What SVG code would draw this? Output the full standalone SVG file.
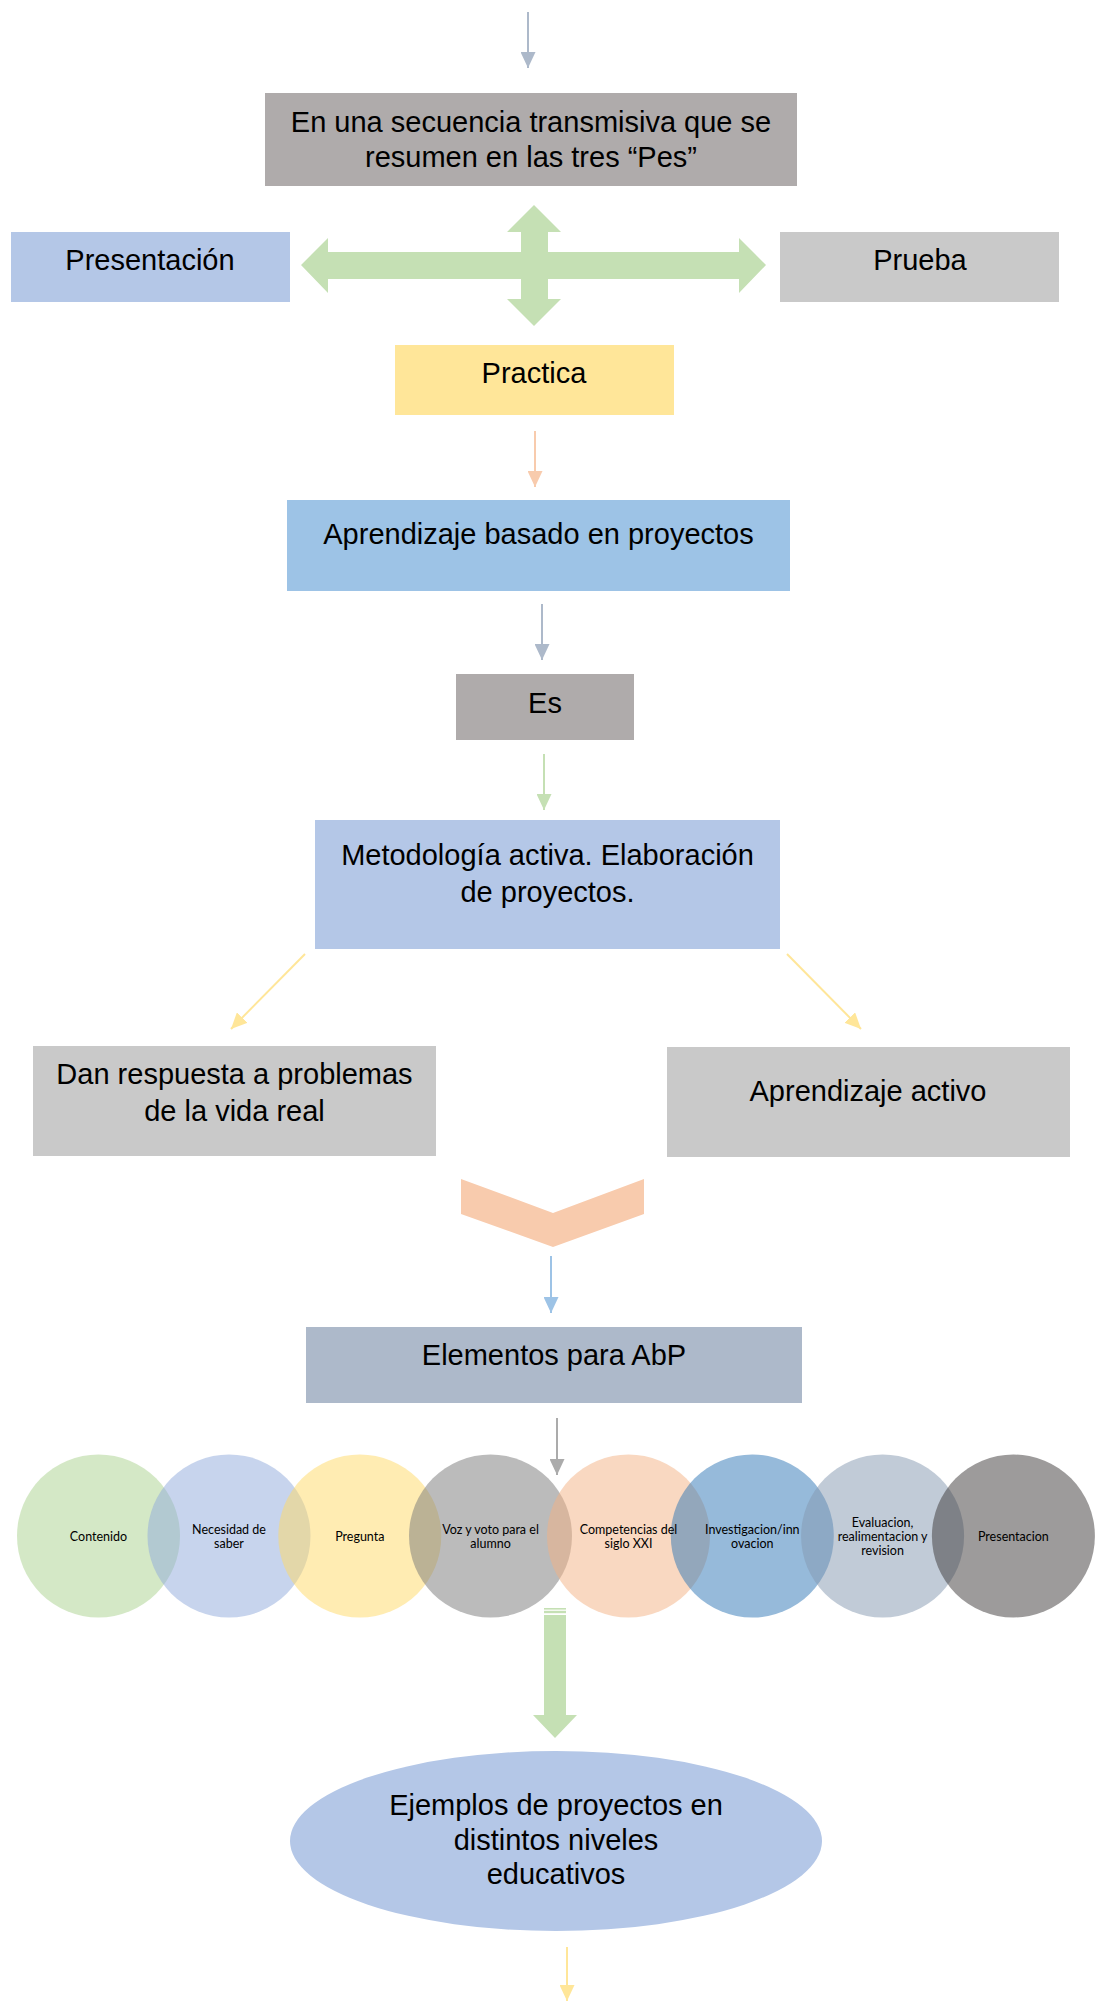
<svg xmlns="http://www.w3.org/2000/svg" width="1104" height="2001" viewBox="0 0 1104 2001">
<style>
.t{font-family:"Liberation Sans",Arial,sans-serif;font-size:29px;fill:#000;text-anchor:middle}
.c{font-family:Lato,"Liberation Sans",sans-serif;font-size:12.5px;fill:#000;text-anchor:middle}
.ln{stroke-width:2;fill:none}
.circ{opacity:0.5}
</style>
<defs>
<marker id="mBG" markerUnits="userSpaceOnUse" markerWidth="16" markerHeight="15" refX="16" refY="7.5" orient="auto" viewBox="0 0 16 15"><path d="M0,0 L16,7.5 L0,15 z" fill="#ADB9CA"/></marker>
<marker id="mPe" markerUnits="userSpaceOnUse" markerWidth="16" markerHeight="15" refX="16" refY="7.5" orient="auto" viewBox="0 0 16 15"><path d="M0,0 L16,7.5 L0,15 z" fill="#F8CBAD"/></marker>
<marker id="mGr" markerUnits="userSpaceOnUse" markerWidth="16" markerHeight="15" refX="16" refY="7.5" orient="auto" viewBox="0 0 16 15"><path d="M0,0 L16,7.5 L0,15 z" fill="#C5E0B4"/></marker>
<marker id="mYe" markerUnits="userSpaceOnUse" markerWidth="16" markerHeight="15" refX="16" refY="7.5" orient="auto" viewBox="0 0 16 15"><path d="M0,0 L16,7.5 L0,15 z" fill="#FFE699"/></marker>
<marker id="mBl" markerUnits="userSpaceOnUse" markerWidth="16" markerHeight="15" refX="16" refY="7.5" orient="auto" viewBox="0 0 16 15"><path d="M0,0 L16,7.5 L0,15 z" fill="#9DC3E6"/></marker>
<marker id="mGy" markerUnits="userSpaceOnUse" markerWidth="16" markerHeight="15" refX="16" refY="7.5" orient="auto" viewBox="0 0 16 15"><path d="M0,0 L16,7.5 L0,15 z" fill="#ABABAB"/></marker>
</defs>
<rect width="1104" height="2001" fill="#FFFFFF"/>

<g id="connectors">
<line class="ln" x1="528" y1="12" x2="528" y2="68" stroke="#ADB9CA" marker-end="url(#mBG)"/>
<g id="cross-arrow" fill="#C5E0B4">
<polygon points="534,205 561,232 548,232 548,299 561,299 534,326 507,299 521,299 521,232 507,232"/>
<polygon points="301,265 328,238 328,252 739,252 739,238 766,265 739,293 739,279 328,279 328,293"/>
</g>
<line class="ln" x1="535" y1="431" x2="535" y2="487" stroke="#F8CBAD" marker-end="url(#mPe)"/>
<line class="ln" x1="542" y1="604" x2="542" y2="660" stroke="#ADB9CA" marker-end="url(#mBG)"/>
<line class="ln" x1="544" y1="754" x2="544" y2="810" stroke="#C5E0B4" marker-end="url(#mGr)"/>
<line class="ln" x1="305" y1="954" x2="231" y2="1029" stroke="#FFE699" marker-end="url(#mYe)"/>
<line class="ln" x1="787" y1="954" x2="861" y2="1029" stroke="#FFE699" marker-end="url(#mYe)"/>
<polygon id="chevron" points="461,1179 553,1213 644,1179 644,1214 553,1247 461,1214" fill="#F8CBAD"/>
<line class="ln" x1="551" y1="1256" x2="551" y2="1313" stroke="#9DC3E6" marker-end="url(#mBl)"/>
<line class="ln" x1="557" y1="1418" x2="557" y2="1475" stroke="#ABABAB" marker-end="url(#mGy)"/>
<g id="striped-arrow" fill="#C5E0B4">
<rect x="544" y="1608" width="22" height="1.6"/>
<rect x="544" y="1610.8" width="22" height="2.4"/>
<polygon points="544,1615 566,1615 566,1715 577,1715 555,1738 533,1715 544,1715"/>
</g>
<line class="ln" x1="567" y1="1947" x2="567" y2="2001" stroke="#FFE699" marker-end="url(#mYe)"/>
</g>

<g id="n-secuencia">
<rect x="265" y="93" width="532" height="93" fill="#AFABAB"/>
<text class="t" x="531" y="132">En una secuencia transmisiva que se</text>
<text class="t" x="531" y="167">resumen en las tres “Pes”</text>
</g>
<g id="n-presentacion">
<rect x="11" y="232" width="279" height="70" fill="#B4C7E7"/>
<text class="t" x="150" y="270">Presentación</text>
</g>
<g id="n-prueba">
<rect x="780" y="232" width="279" height="70" fill="#C9C9C9"/>
<text class="t" x="920" y="270">Prueba</text>
</g>
<g id="n-practica">
<rect x="395" y="345" width="279" height="70" fill="#FFE699"/>
<text class="t" x="534" y="383">Practica</text>
</g>
<g id="n-abp">
<rect x="287" y="500" width="503" height="91" fill="#9DC3E6"/>
<text class="t" x="538.5" y="544">Aprendizaje basado en proyectos</text>
</g>
<g id="n-es">
<rect x="456" y="674" width="178" height="66" fill="#AFABAB"/>
<text class="t" x="545" y="713">Es</text>
</g>
<g id="n-metodologia">
<rect x="315" y="820" width="465" height="129" fill="#B4C7E7"/>
<text class="t" x="547.5" y="865">Metodología activa. Elaboración</text>
<text class="t" x="547.5" y="902">de proyectos.</text>
</g>
<g id="n-dan">
<rect x="33" y="1046" width="403" height="110" fill="#C9C9C9"/>
<text class="t" x="234.5" y="1084">Dan respuesta a problemas</text>
<text class="t" x="234.5" y="1121">de la vida real</text>
</g>
<g id="n-activo">
<rect x="667" y="1047" width="403" height="110" fill="#C9C9C9"/>
<text class="t" x="868" y="1101">Aprendizaje activo</text>
</g>
<g id="n-elementos">
<rect x="306" y="1327" width="496" height="76" fill="#ADB9CA"/>
<text class="t" x="554" y="1365">Elementos para AbP</text>
</g>

<g id="n-circles">
<g id="c1"><circle class="circ" cx="98.5" cy="1536" r="81.5" fill="#A9D18E"/></g>
<g id="c2"><circle class="circ" cx="229" cy="1536" r="81.5" fill="#8FAADC"/></g>
<g id="c3"><circle class="circ" cx="359.8" cy="1536" r="81.5" fill="#FFD966"/></g>
<g id="c4"><circle class="circ" cx="490.5" cy="1536" r="81.5" fill="#787878"/></g>
<g id="c5"><circle class="circ" cx="628.5" cy="1536" r="81.5" fill="#F4B183"/></g>
<g id="c6"><circle class="circ" cx="752.3" cy="1536" r="81.5" fill="#2E75B6"/></g>
<g id="c7"><circle class="circ" cx="882.6" cy="1536" r="81.5" fill="#8497B0"/></g>
<g id="c8"><circle class="circ" cx="1013.4" cy="1536" r="81.5" fill="#3B3838"/></g>
<text class="c" x="98.5" y="1540.5">Contenido</text>
<text class="c" x="229" y="1534">Necesidad de</text>
<text class="c" x="229" y="1547.5">saber</text>
<text class="c" x="359.8" y="1540.5">Pregunta</text>
<text class="c" x="490.5" y="1534">Voz y voto para el</text>
<text class="c" x="490.5" y="1547.5">alumno</text>
<text class="c" x="628.5" y="1534">Competencias del</text>
<text class="c" x="628.5" y="1547.5">siglo XXI</text>
<text class="c" x="752.3" y="1534">Investigacion/inn</text>
<text class="c" x="752.3" y="1547.5">ovacion</text>
<text class="c" x="882.6" y="1526.5">Evaluacion,</text>
<text class="c" x="882.6" y="1540.5">realimentacion y</text>
<text class="c" x="882.6" y="1554.5">revision</text>
<text class="c" x="1013.4" y="1540.5">Presentacion</text>
</g>

<g id="n-ejemplos">
<ellipse cx="556" cy="1841" rx="266" ry="90" fill="#B4C7E7"/>
<text class="t" x="556" y="1815">Ejemplos de proyectos en</text>
<text class="t" x="556" y="1850">distintos niveles</text>
<text class="t" x="556" y="1884">educativos</text>
</g>
</svg>
